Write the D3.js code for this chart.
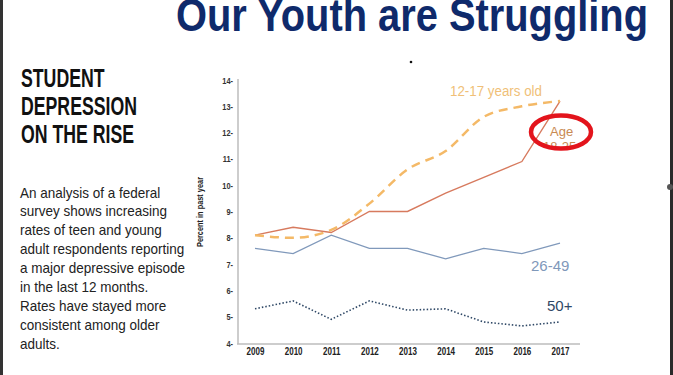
<!DOCTYPE html>
<html>
<head>
<meta charset="utf-8">
<script src="https://cdnjs.cloudflare.com/ajax/libs/d3/7.8.5/d3.min.js"></script>
<style>
  html, body { margin: 0; padding: 0; background: #fff; }
  svg { display: block; }
  text { font-family: "Liberation Sans", Arial, sans-serif; }
</style>
</head>
<body>
<div id="chart"></div>
<script>
// data
const years = [2009, 2010, 2011, 2012, 2013, 2014, 2015, 2016, 2017];
const teen = [8.1, 8.0, 8.3, 9.3, 10.6, 11.3, 12.6, 13.0, 13.2];
const young = [8.1, 8.4, 8.2, 9.0, 9.0, 9.7, 10.3, 10.9, 13.2];
const mid = [7.6, 7.4, 8.1, 7.6, 7.6, 7.2, 7.6, 7.4, 7.8];
const older = [5.3, 5.6, 4.9, 5.6, 5.25, 5.3, 4.8, 4.65, 4.8];
const yTicks = [4, 5, 6, 7, 8, 9, 10, 11, 12, 13, 14];

const headLines = ["STUDENT", "DEPRESSION", "ON THE RISE"];
const bodyLines = [
  "An analysis of a federal",
  "survey shows increasing",
  "rates of teen and young",
  "adult respondents reporting",
  "a major depressive episode",
  "in the last 12 months.",
  "Rates have stayed more",
  "consistent among older",
  "adults."
];

const width = 673;
const height = 375;

// squeeze text horizontally (the original uses a condensed face)
function condense(sel, factor) {
  sel.each(function() {
    const w = this.getComputedTextLength();
    d3.select(this).attr("textLength", w * factor).attr("lengthAdjust", "spacingAndGlyphs");
  });
}

const svg = d3.select("#chart").append("svg")
  .attr("width", width)
  .attr("height", height);

// slide frame
svg.append("rect").attr("x", 0).attr("y", 0).attr("width", 3).attr("height", height).attr("fill", "#333");
svg.append("rect").attr("x", 670).attr("y", 0).attr("width", 3).attr("height", height).attr("fill", "#2a2a2a");
svg.append("circle").attr("cx", 670).attr("cy", 187).attr("r", 3).attr("fill", "#555");

// title (cut off at the top)
svg.append("text")
  .attr("x", 176)
  .attr("y", 31)
  .attr("font-size", "46px")
  .attr("font-weight", "bold")
  .attr("fill", "#0f2a6b")
  .attr("textLength", 472)
  .attr("lengthAdjust", "spacingAndGlyphs")
  .text("Our Youth are Struggling");

svg.append("circle").attr("cx", 411).attr("cy", 62).attr("r", 1.3).attr("fill", "#111");

// left heading
const head = svg.selectAll(".head")
  .data(headLines)
  .enter().append("text")
  .attr("x", 21)
  .attr("y", (d, i) => 86.5 + i * 28)
  .attr("font-size", "25px")
  .attr("font-weight", "bold")
  .attr("fill", "#111")
  .text(d => d);
const headW = d3.max(head.nodes(), n => n.getComputedTextLength());
condense(head, 116 / headW);

const body = svg.selectAll(".body")
  .data(bodyLines)
  .enter().append("text")
  .attr("x", 20)
  .attr("y", (d, i) => 197.5 + i * 18.9)
  .attr("font-size", "15px")
  .attr("fill", "#222")
  .text(d => d);
const bodyW = d3.max(body.nodes(), n => n.getComputedTextLength());
condense(body, 165 / bodyW);

// scales
const x = d3.scaleLinear().domain([2009, 2017]).range([255, 560]);
const y = d3.scaleLinear().domain([4, 14]).range([343, 80]);

// axes lines
svg.append("line")
  .attr("x1", 238).attr("x2", 238).attr("y1", 79).attr("y2", 344)
  .attr("stroke", "#bdbdbd").attr("stroke-width", 1.5);
svg.append("line")
  .attr("x1", 237).attr("x2", 580).attr("y1", 344).attr("y2", 344)
  .attr("stroke", "#bdbdbd").attr("stroke-width", 1.5);

const yAxis = svg.append("g")
  .attr("transform", "translate(233,0)")
  .call(d3.axisLeft(y).tickValues(yTicks).tickSize(0).tickPadding(0).tickFormat(d => d + "-"));
yAxis.select(".domain").remove();
yAxis.selectAll("text")
  .attr("font-family", null)
  .attr("font-size", "9.5px")
  .attr("font-weight", "bold")
  .attr("fill", "#333");
condense(yAxis.selectAll("text"), 0.78);
yAxis.selectAll("text").attr("text-anchor", "end");

const xAxis = svg.append("g")
  .attr("transform", "translate(0,348)")
  .call(d3.axisBottom(x).tickValues(years).tickSize(0).tickPadding(0).tickFormat(d3.format("d")));
xAxis.select(".domain").remove();
xAxis.selectAll("text")
  .attr("font-family", null)
  .attr("font-size", "10px")
  .attr("font-weight", "bold")
  .attr("fill", "#222");
condense(xAxis.selectAll("text"), 0.8);

const yLab = svg.append("text")
  .attr("transform", "translate(203,212) rotate(-90)")
  .attr("text-anchor", "middle")
  .attr("font-size", "9px")
  .attr("font-weight", "bold")
  .attr("fill", "#222")
  .text("Percent in past year");
condense(yLab, 70 / yLab.node().getComputedTextLength());

// lines
const line = d3.line()
  .x((d, i) => x(years[i]))
  .y(d => y(d));

svg.append("path").datum(older)
  .attr("d", line).attr("fill", "none")
  .attr("stroke", "#2f4866").attr("stroke-width", 1.6)
  .attr("stroke-dasharray", "1.5,2");

svg.append("path").datum(mid)
  .attr("d", line).attr("fill", "none")
  .attr("stroke", "#8099bb").attr("stroke-width", 1.3);

svg.append("path").datum(young)
  .attr("d", line).attr("fill", "none")
  .attr("stroke", "#d77a5e").attr("stroke-width", 1.4);

svg.append("path").datum(teen)
  .attr("d", d3.line().x((d, i) => x(years[i])).y(d => y(d)).curve(d3.curveMonotoneX))
  .attr("fill", "none")
  .attr("stroke", "#f4b967").attr("stroke-width", 2.5)
  .attr("stroke-dasharray", "9,6");

// series labels
const teenLab = svg.append("text")
  .attr("x", 450).attr("y", 96)
  .attr("font-size", "14px")
  .attr("fill", "#f0bf78")
  .text("12-17 years old");
condense(teenLab, 92 / teenLab.node().getComputedTextLength());

svg.append("defs").append("clipPath").attr("id", "cut")
  .append("rect").attr("x", 520).attr("y", 100).attr("width", 100).attr("height", 46);

svg.append("text")
  .attr("x", 550).attr("y", 136)
  .attr("font-size", "13px")
  .attr("fill", "#c98a52")
  .text("Age");
svg.append("text")
  .attr("x", 543).attr("y", 151)
  .attr("clip-path", "url(#cut)")
  .attr("font-size", "13px")
  .attr("fill", "#c98a52")
  .text("18-25");

svg.append("ellipse")
  .attr("cx", 561).attr("cy", 132).attr("rx", 30).attr("ry", 16.5)
  .attr("fill", "none").attr("stroke", "#e3141c").attr("stroke-width", 4.5);

svg.append("text")
  .attr("x", 531).attr("y", 271)
  .attr("font-size", "15px")
  .attr("fill", "#7f98ba")
  .text("26-49");

svg.append("text")
  .attr("x", 547).attr("y", 311)
  .attr("font-size", "15px")
  .attr("fill", "#2f4866")
  .text("50+");
</script>
</body>
</html>
